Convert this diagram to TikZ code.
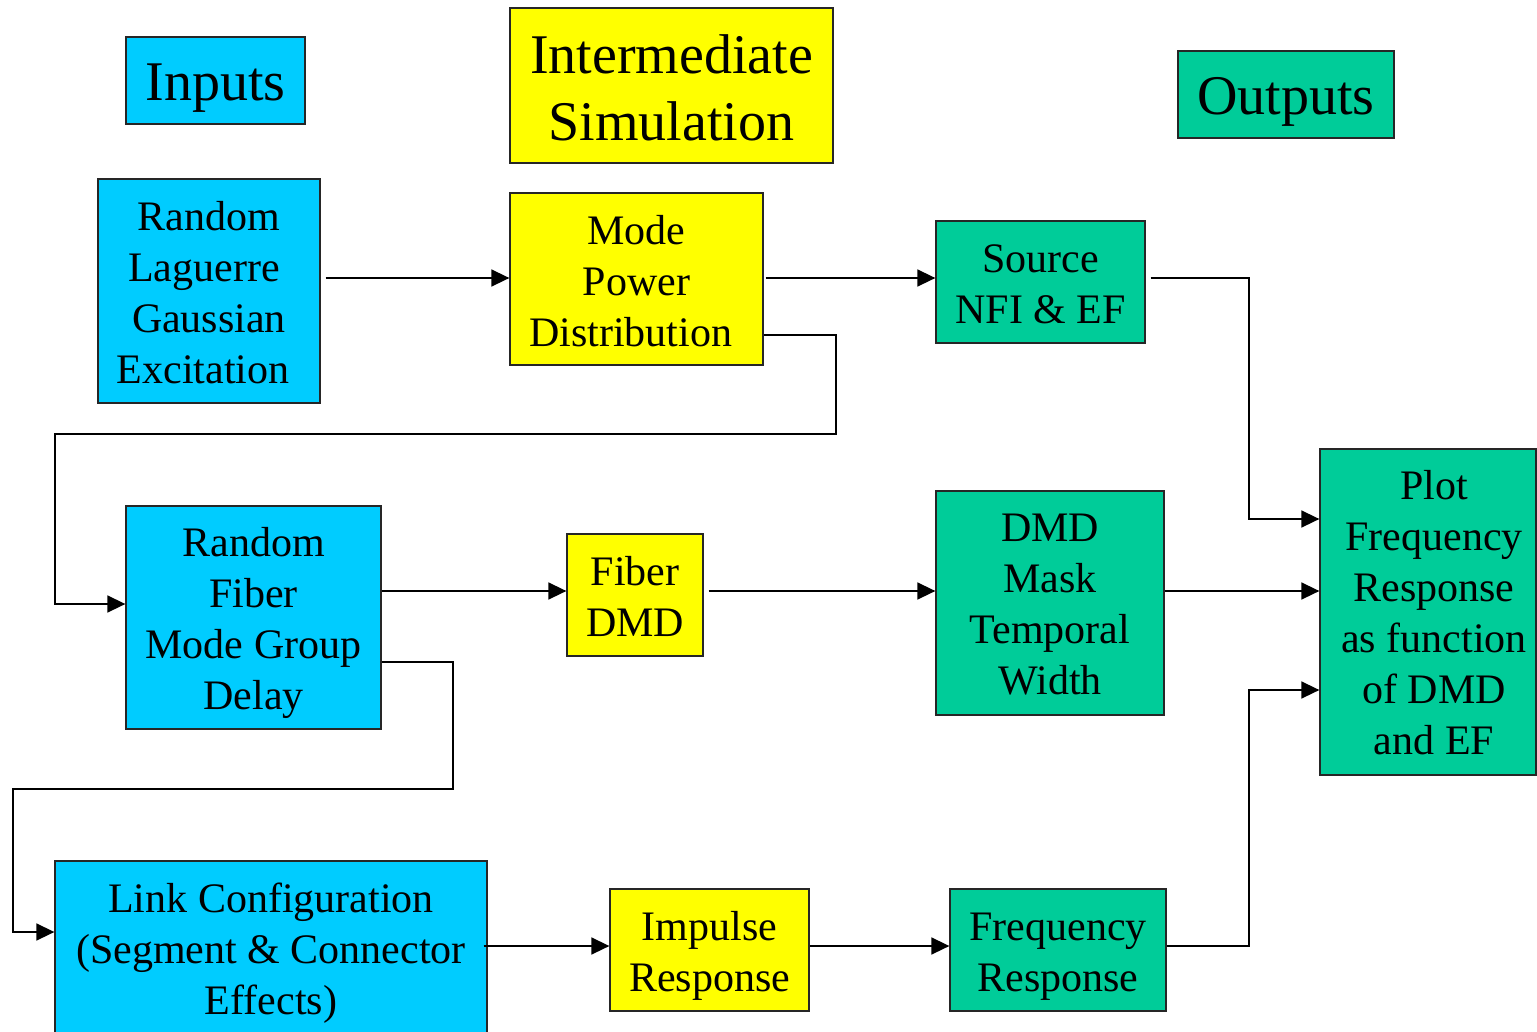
\documentclass[tikz,border=0pt]{standalone}
\usepackage{fontspec}
\setmainfont{Liberation Serif}
\usetikzlibrary{arrows.meta,calc}
\definecolor{cinput}{HTML}{00CCFF}
\definecolor{cinter}{HTML}{FFFF00}
\definecolor{coutput}{HTML}{00CC99}
\begin{document}
\begin{tikzpicture}[x=1pt,y=-1pt,
  box/.style={draw=black!85,line width=1.3pt,rectangle,inner sep=0pt},
  txt/.style={align=center,inner sep=0pt,font=\fontsize{42}{51}\selectfont},
  ttxt/.style={align=center,inner sep=0pt,font=\fontsize{56}{67}\selectfont},
  inbox/.style={fill=cinput},
  midbox/.style={fill=cinter},
  outbox/.style={fill=coutput},
  conn/.style={line width=1.6pt,-{Triangle[length=18pt,width=17pt]}}]
\useasboundingbox (0,0) rectangle (1537,1031);
\begin{scope}
\clip (0,0) rectangle (1537,1031);
% titles
\node[box,inbox,minimum width=179pt,minimum height=87pt,
  label={[ttxt,yshift=-8pt]center:Inputs}] (tin) at (215.5,80.5) {};
\node[box,midbox,minimum width=323pt,minimum height=155pt,
  label={[ttxt,yshift=-2pt]center:{Intermediate\\Simulation}}] (tmid) at (671.5,85.5) {};
\node[box,outbox,minimum width=216pt,minimum height=87pt,
  label={[ttxt,yshift=-7pt]center:Outputs}] (tout) at (1286,94.5) {};
% boxes
\node[box,inbox,minimum width=222pt,minimum height=224pt,
  label={[txt,yshift=-2pt]center:{Random\\Laguerre\rule{10pt}{0pt}\\Gaussian\\Excitation\rule{12pt}{0pt}}}] (rlge) at (209,291) {};
\node[box,midbox,minimum width=253pt,minimum height=172pt,
  label={[txt,yshift=-2pt]center:{Mode\\Power\\Distribution\rule{12pt}{0pt}}}] (mpd) at (636.5,279) {};
\node[box,outbox,minimum width=209pt,minimum height=122pt,
  label={[txt,yshift=-2pt]center:{Source\\NFI \& EF}}] (src) at (1040.5,282) {};
\node[box,inbox,minimum width=255pt,minimum height=223pt,
  label={[txt,yshift=-5pt]center:{Random\\Fiber\\Mode Group\\Delay}}] (rfm) at (253.5,617.5) {};
\node[box,midbox,minimum width=136pt,minimum height=122pt,
  label={[txt,yshift=-1pt]center:{Fiber\\DMD}}] (fdmd) at (635,595) {};
\node[box,outbox,minimum width=228pt,minimum height=224pt,
  label={[txt,yshift=-2pt]center:{DMD\\Mask\\Temporal\\Width}}] (mask) at (1050,603) {};
\node[box,outbox,minimum width=216pt,minimum height=326pt,
  label={[txt,xshift=6pt,yshift=-1pt]center:{Plot\\Frequency\\Response\\as function\\of DMD\\and EF}}] (plot) at (1428,612) {};
\node[box,inbox,minimum width=432pt,minimum height=180pt,
  label={[txt,yshift=-2pt]center:{Link Configuration\\(Segment \& Connector\\Effects)}}] (link) at (271,951) {};
\node[box,midbox,minimum width=199pt,minimum height=122pt,
  label={[txt,yshift=-6pt]center:{Impulse\\Response}}] (imp) at (709.5,950) {};
\node[box,outbox,minimum width=216pt,minimum height=122pt,
  label={[txt,yshift=-7pt]center:{Frequency\\Response}}] (freq) at (1058,950) {};
% connectors
\draw[conn] ($(rlge.east |- 0,278)+(5,0)$) -- (mpd.west |- 0,278);
\draw[conn] ($(mpd.east |- 0,278)+(2,0)$) -- (src.west |- 0,278);
\draw[conn] (mpd.east |- 0,335) -- (836,335) -- (836,434) -- (55,434) -- (55,604) -- (rfm.west |- 0,604);
\draw[conn] ($(src.east |- 0,278)+(5,0)$) -- (1249,278) -- (1249,519) -- (plot.west |- 0,519);
\draw[conn] (rfm.east |- 0,591) -- (fdmd.west |- 0,591);
\draw[conn] ($(fdmd.east |- 0,591)+(5,0)$) -- (mask.west |- 0,591);
\draw[conn] (mask.east |- 0,591) -- (plot.west |- 0,591);
\draw[conn] (rfm.east |- 0,662) -- (453,662) -- (453,789) -- (13,789) -- (13,932) -- (link.west |- 0,932);
\draw[conn] ($(link.east |- 0,946)+(-4,0)$) -- (imp.west |- 0,946);
\draw[conn] (imp.east |- 0,946) -- (freq.west |- 0,946);
\draw[conn] (freq.east |- 0,946) -- (1249,946) -- (1249,690) -- (plot.west |- 0,690);
\end{scope}
\end{tikzpicture}
\end{document}
